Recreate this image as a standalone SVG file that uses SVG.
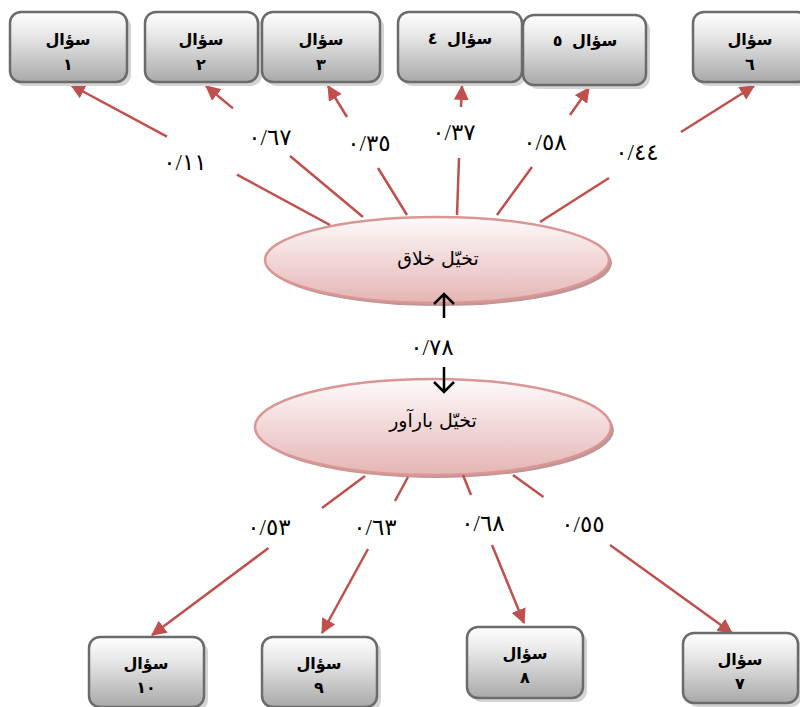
<svg xmlns="http://www.w3.org/2000/svg" width="800" height="707" viewBox="0 0 800 707">
<defs>
<linearGradient id="boxg" x1="0" y1="0" x2="0" y2="1">
<stop offset="0" stop-color="#ffffff"/>
<stop offset="0.35" stop-color="#e6e6e6"/>
<stop offset="1" stop-color="#a9a9a9"/>
</linearGradient>
<linearGradient id="ellg" x1="0" y1="0" x2="0" y2="1">
<stop offset="0" stop-color="#fdfafa"/>
<stop offset="0.5" stop-color="#f2d7d7"/>
<stop offset="1" stop-color="#e4b5b4"/>
</linearGradient>
<marker id="rh" viewBox="0 0 14 14" refX="13" refY="7" markerWidth="15" markerHeight="15" markerUnits="userSpaceOnUse" orient="auto">
<path d="M0,0 L14,7 L0,14 z" fill="#c0504d"/>
</marker>
<style>
.box{fill:url(#boxg);stroke:#6b6b6b;stroke-width:2.5}
.bsh{fill:#d4d4d4}
.ell{fill:url(#ellg);stroke:#d99694;stroke-width:2.5}
.esh{fill:#c09595}
.btx{font-family:"DejaVu Sans",sans-serif;font-size:16px;font-weight:bold;fill:#000;text-anchor:middle;word-spacing:4px}
.etx{font-family:"DejaVu Sans",sans-serif;font-size:19px;fill:#000;text-anchor:middle}
.lbl{font-family:"Liberation Serif","DejaVu Sans",serif;font-size:23px;fill:#000;text-anchor:middle}
.con{fill:none;stroke:#c0504d;stroke-width:2.5;marker-end:url(#rh)}
.blk{fill:none;stroke:#000;stroke-width:2.5}
</style>
</defs>
<rect width="800" height="707" fill="#ffffff"/>

<g id="ellipse1">
<ellipse class="esh" cx="440" cy="263" rx="172" ry="43"/>
<ellipse class="ell" cx="437" cy="260" rx="172" ry="43"/>
<text class="etx" x="438" y="265">تخیّل خلاق</text>
</g>
<g id="ellipse2">
<ellipse class="esh" cx="436" cy="430" rx="178" ry="48"/>
<ellipse class="ell" cx="433" cy="427" rx="178" ry="48"/>
<text class="etx" x="433" y="427">تخیّل بارآور</text>
</g>

<g id="connectors">
<path class="con" d="M330,225 L237,174.6 M167,136.6 L71,85"/>
<path class="con" d="M363,217 L290,156 M233,108.4 L206,86"/>
<path class="con" d="M407,215 L378,168 M347,117 L328,86"/>
<path class="con" d="M457,215 L459,158 M461,107 L462,86"/>
<path class="con" d="M497,215 L532,167 M570,115 L589,88"/>
<path class="con" d="M540,222 L609,178 M681,132 L754,86"/>
<path class="con" d="M365,476 L322,508 M268.5,548 L152,635"/>
<path class="con" d="M408,477 L395,501 M368,549 L322,633"/>
<path class="con" d="M463,475 L471,495 M492,545 L524,623"/>
<path class="con" d="M513,475 L543.5,497 M610,545 L732,633"/>
<path class="blk" d="M444,318 L444,294 M434,304 L444,294 L454,304"/>
<path class="blk" d="M444,367 L444,392 M434,382 L444,392 L454,382"/>
</g>

<g id="labels">
<text class="lbl" x="185" y="170">٠/١١</text>
<text class="lbl" x="270" y="145">٠/٦٧</text>
<text class="lbl" x="369" y="151">٠/٣٥</text>
<text class="lbl" x="454" y="140">٠/٣٧</text>
<text class="lbl" x="545" y="150">٠/٥٨</text>
<text class="lbl" x="637" y="160">٠/٤٤</text>
<text class="lbl" x="432" y="355">٠/٧٨</text>
<text class="lbl" x="269" y="535">٠/٥٣</text>
<text class="lbl" x="375" y="535">٠/٦٣</text>
<text class="lbl" x="483" y="531">٠/٦٨</text>
<text class="lbl" x="583" y="532">٠/٥٥</text>
</g>

<g id="q1">
<rect class="bsh" x="14" y="16" width="117" height="70" rx="11"/>
<rect class="box" x="10" y="12" width="117" height="70" rx="11"/>
<text class="btx" x="68" y="45">سؤال</text>
<text class="btx" x="68" y="70">١</text>
</g>
<g id="q2">
<rect class="bsh" x="149" y="16" width="113" height="70" rx="11"/>
<rect class="box" x="145" y="12" width="113" height="70" rx="11"/>
<text class="btx" x="201" y="45">سؤال</text>
<text class="btx" x="201" y="70">٢</text>
</g>
<g id="q3">
<rect class="bsh" x="266" y="16" width="118" height="70" rx="11"/>
<rect class="box" x="262" y="12" width="118" height="70" rx="11"/>
<text class="btx" x="321" y="45">سؤال</text>
<text class="btx" x="321" y="70">٣</text>
</g>
<g id="q4">
<rect class="bsh" x="402" y="16" width="124" height="70" rx="11"/>
<rect class="box" x="398" y="12" width="124" height="70" rx="11"/>
<text class="btx" x="460" y="44">سؤال ٤</text>
</g>
<g id="q5">
<rect class="bsh" x="527" y="19" width="123" height="70" rx="11"/>
<rect class="box" x="523" y="15" width="123" height="70" rx="11"/>
<text class="btx" x="585" y="46">سؤال ٥</text>
</g>
<g id="q6">
<rect class="bsh" x="697" y="16" width="115" height="70" rx="11"/>
<rect class="box" x="693" y="12" width="115" height="70" rx="11"/>
<text class="btx" x="750" y="45">سؤال</text>
<text class="btx" x="750" y="70">٦</text>
</g>

<g id="q7">
<rect class="bsh" x="687" y="637" width="115" height="70" rx="11"/>
<rect class="box" x="683" y="633" width="115" height="70" rx="11"/>
<text class="btx" x="740" y="665">سؤال</text>
<text class="btx" x="740" y="689">٧</text>
</g>
<g id="q8">
<rect class="bsh" x="471" y="631" width="116" height="71" rx="11"/>
<rect class="box" x="467" y="627" width="116" height="71" rx="11"/>
<text class="btx" x="525" y="659">سؤال</text>
<text class="btx" x="525" y="683">٨</text>
</g>
<g id="q9">
<rect class="bsh" x="266" y="641" width="115" height="70" rx="11"/>
<rect class="box" x="262" y="637" width="115" height="70" rx="11"/>
<text class="btx" x="319" y="669">سؤال</text>
<text class="btx" x="319" y="693">٩</text>
</g>
<g id="q10">
<rect class="bsh" x="93" y="641" width="115" height="70" rx="11"/>
<rect class="box" x="89" y="637" width="115" height="70" rx="11"/>
<text class="btx" x="146" y="669">سؤال</text>
<text class="btx" x="146" y="693">١٠</text>
</g>
</svg>
